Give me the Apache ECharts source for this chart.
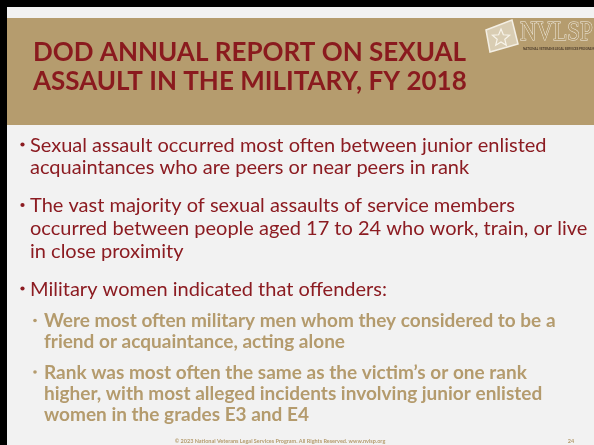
<!DOCTYPE html>
<html>
<head>
<meta charset="utf-8">
<script src="https://cdn.jsdelivr.net/npm/echarts@6/dist/echarts.min.js"></script>
<style>
  html, body { margin: 0; padding: 0; background: #f2f2f2; }
  #main { width: 594px; height: 445px; }
</style>
</head>
<body>
<div id="main"></div>
<script>
// slide texts
var titleLines = ['DOD ANNUAL REPORT ON SEXUAL', 'ASSAULT IN THE MILITARY, FY 2018'];
var bulletLines = [
  ['Sexual assault occurred most often between junior enlisted',
   'acquaintances who are peers or near peers in rank'],
  ['The vast majority of sexual assaults of service members',
   'occurred between people aged 17 to 24 who work, train, or live',
   'in close proximity'],
  ['Military women indicated that offenders:']
];
var subBulletLines = [
  ['Were most often military men whom they considered to be a',
   'friend or acquaintance, acting alone'],
  ['Rank was most often the same as the victim\u2019s or one rank',
   'higher, with most alleged incidents involving junior enlisted',
   'women in the grades E3 and E4']
];
var footerText = '\u00a9 2023 National Veterans Legal Services Program. All Rights Reserved. www.nvlsp.org';
var pageNumber = '24';
var logoName = 'NVLSP';
var logoSub = 'NATIONAL VETERANS LEGAL SERVICES PROGRAM';

var red = '#8c1c22';
var tan = '#b49b6d';
var font = 'Lato, "Open Sans", sans-serif';

var myChart = echarts.init(document.getElementById('main'));
var elements = [];

// frame + header band
elements.push({ type: 'rect', shape: { x: 0, y: 0, width: 594, height: 445 }, style: { fill: '#f2f2f2' } });
elements.push({ type: 'rect', shape: { x: 0, y: 18, width: 594, height: 107 }, style: { fill: '#b59c6e' } });
elements.push({ type: 'rect', shape: { x: 0, y: 0, width: 594, height: 7 }, style: { fill: '#000' } });
elements.push({ type: 'rect', shape: { x: 0, y: 0, width: 7, height: 445 }, style: { fill: '#000' } });

// title
var titleBase = [65, 94];
titleLines.forEach(function (t, i) {
  elements.push({
    type: 'text',
    style: { text: t, x: 33, y: titleBase[i] + 1, fill: '#8a1a1e', font: 'bold 26px ' + font, verticalAlign: 'bottom' }
  });
});

// logo
elements.push({
  type: 'polygon',
  shape: { points: [[486, 30], [512, 20], [518, 44], [490, 52]] },
  style: { fill: '#d9cdb3', stroke: '#f4efe4', lineWidth: 1.5 }
});
var star = [];
for (var k = 0; k < 10; k++) {
  var r = k % 2 === 0 ? 9 : 4;
  var a = -Math.PI / 2 + k * Math.PI / 5;
  star.push([501 + r * Math.cos(a), 38 + r * Math.sin(a)]);
}
elements.push({ type: 'polygon', shape: { points: star }, style: { fill: 'none', stroke: '#f8f4ea', lineWidth: 1.2 } });
elements.push({
  type: 'text',
  x: 520, y: 46, scaleX: 0.85,
  style: { text: logoName, x: 0, y: 0, fill: '#b59c6e', stroke: '#f2ede2', lineWidth: 1, font: '27px "Liberation Serif", "DejaVu Serif", serif', verticalAlign: 'bottom' }
});
elements.push({
  type: 'text',
  style: { text: logoSub, x: 523, y: 51, fill: '#4a3a2a', font: 'bold 3px ' + font, verticalAlign: 'bottom' }
});

// main bullets
var bulletBase = [[151, 173.5], [211.5, 234, 257], [295]];
bulletLines.forEach(function (lines, i) {
  elements.push({ type: 'circle', shape: { cx: 22.5, cy: bulletBase[i][0] - 6.5, r: 2.1 }, style: { fill: red } });
  lines.forEach(function (t, j) {
    elements.push({
      type: 'text',
      style: { text: t, x: 30, y: bulletBase[i][j] + 4.5, fill: red, font: '20px ' + font, verticalAlign: 'bottom' }
    });
  });
});

// sub bullets
var subBase = [[326.5, 347], [378, 399.5, 420.5]];
subBulletLines.forEach(function (lines, i) {
  elements.push({ type: 'circle', shape: { cx: 35, cy: subBase[i][0] - 6, r: 1.8 }, style: { fill: tan } });
  lines.forEach(function (t, j) {
    elements.push({
      type: 'text',
      style: { text: t, x: 44, y: subBase[i][j] + 4.2, fill: tan, font: 'bold 19px ' + font, verticalAlign: 'bottom' }
    });
  });
});

// footer
elements.push({
  type: 'text',
  style: { text: footerText, x: 280, y: 441, fill: tan, font: 'bold 5.5px ' + font, align: 'center', verticalAlign: 'middle' }
});
elements.push({
  type: 'text',
  style: { text: pageNumber, x: 571, y: 441, fill: tan, font: 'bold 5.5px ' + font, align: 'center', verticalAlign: 'middle' }
});

myChart.setOption({
  animation: false,
  graphic: { elements: elements }
});
</script>
</body>
</html>
